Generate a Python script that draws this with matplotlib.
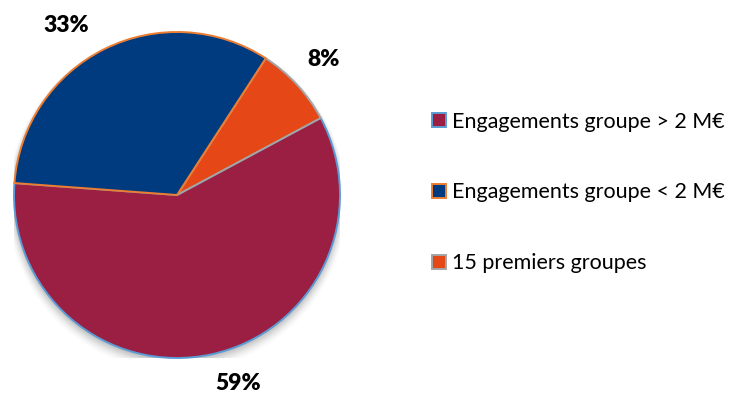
import numpy as np
import matplotlib
matplotlib.use("Agg")
import matplotlib.pyplot as plt
from matplotlib.patches import Patch, Circle

# Share of commitments by borrower group
categories = ["Engagements groupe > 2 M€", "Engagements groupe < 2 M€", "15 premiers groupes"]
shares = [59, 33, 8]
fill_colors = ["#9B1F42", "#003B80", "#E54717"]
edge_colors = ["#5B9BD5", "#ED7D31", "#A5A5A5"]

W, H, DPI = 735, 394, 100
fig = plt.figure(figsize=(W / DPI, H / DPI), dpi=DPI)

cx, cy, r = 177, 195, 163
ax = fig.add_axes([(cx - r) / W, (H - cy - r) / H, 2 * r / W, 2 * r / H])
ax.axis("off")

# soft drop shadow below the disc
for i, a in enumerate(np.linspace(0.05, 0.012, 8)):
    ax.add_patch(Circle((0.0, -0.012 - i * 0.004), 1.0 + i * 0.006,
                        facecolor="#000000", alpha=a, lw=0, zorder=0))

# wedges are drawn counter-clockwise: crimson, orange, blue
order = [0, 2, 1]
wedges, _ = ax.pie([shares[i] for i in order],
                   colors=[fill_colors[i] for i in order],
                   startangle=175.8, counterclock=True, radius=1.0,
                   wedgeprops=dict(linewidth=1.4))
for w, i in zip(wedges, order):
    w.set_edgecolor(edge_colors[i])
    w.set_zorder(2)
    w.set_clip_on(False)
ax.set_xlim(-1, 1)
ax.set_ylim(-1, 1)
ax.set_aspect("equal")

label_font = ["Lato", "DejaVu Sans"]
label_pos = {0: (0.375, -1.155), 1: (-0.68, 1.04), 2: (0.90, 0.83)}
for i, v in enumerate(shares):
    x, y = label_pos[i]
    ax.text(x, y, f"{v}%", ha="center", va="center", fontsize=16.5,
            fontweight="heavy", family=label_font, color="#000000", clip_on=False)

handles = [Patch(facecolor=fill_colors[i], edgecolor=edge_colors[i], linewidth=1.4)
           for i in range(len(categories))]
fig.legend(handles, categories, loc="center left",
           bbox_to_anchor=(432 / W, 1 - 192.5 / H), frameon=False,
           prop={"family": ["Lato", "DejaVu Sans"], "size": 15.5},
           handlelength=0.63, handleheight=0.63, handletextpad=0.3,
           labelspacing=2.36, borderaxespad=0, borderpad=0)

fig.savefig("out.png", dpi=DPI, facecolor="white")
